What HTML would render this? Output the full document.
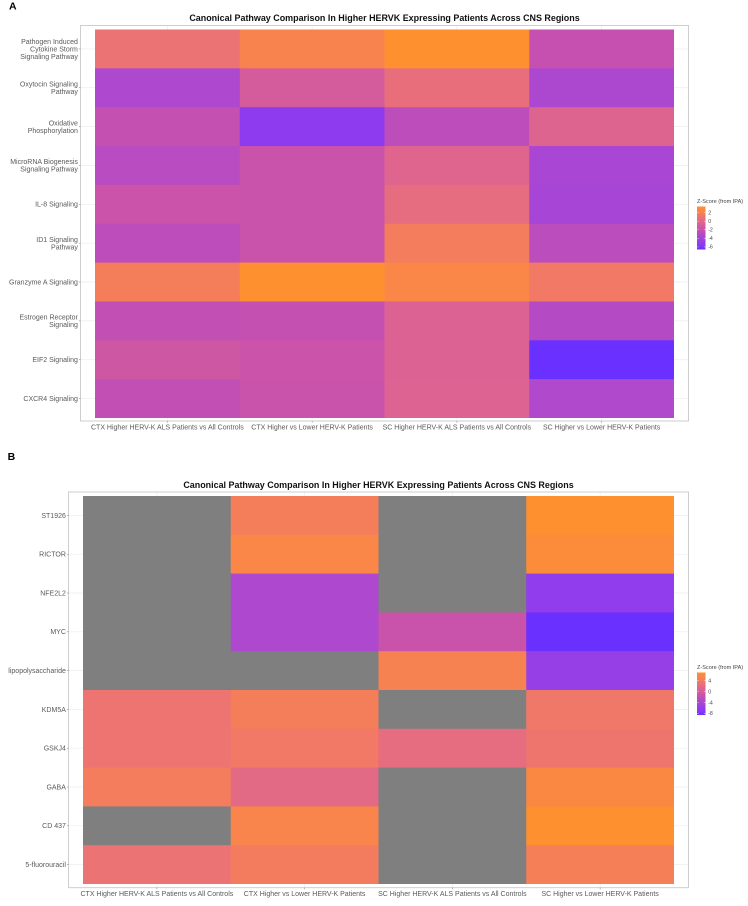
<!DOCTYPE html>
<html lang="en">
<head>
<meta charset="utf-8">
<title>Canonical Pathway Comparison</title>
<style>
html,body{margin:0;padding:0;background:#fff;width:748px;height:906px;overflow:hidden}
svg{display:block}
text{font-family:"Liberation Sans",sans-serif}
</style>
</head>
<body>
<svg id="fig" xmlns="http://www.w3.org/2000/svg" width="748" height="906" viewBox="0 0 748 906"></svg>
<script>
const chartTitle = 'Canonical Pathway Comparison In Higher HERVK Expressing Patients Across CNS Regions';
const legendTitle = 'Z-Score (from IPA)';
const comparisons = ['CTX Higher HERV-K ALS Patients vs All Controls', 'CTX Higher vs Lower HERV-K Patients', 'SC Higher HERV-K ALS Patients vs All Controls', 'SC Higher vs Lower HERV-K Patients'];

const pathwaysA = ['Pathogen Induced\nCytokine Storm\nSignaling Pathway', 'Oxytocin Signaling\nPathway', 'Oxidative\nPhosphorylation', 'MicroRNA Biogenesis\nSignaling Pathway', 'IL-8 Signaling', 'ID1 Signaling\nPathway', 'Granzyme A Signaling', 'Estrogen Receptor\nSignaling', 'EIF2 Signaling', 'CXCR4 Signaling'];
const zScoresA = [
  [0.93, 2.24, 3.44, -2.18],
  [-3.29, -1.08, 0.53, -3.39],
  [-2.28, -5.4, -2.58, -0.38],
  [-2.78, -1.98, -0.27, -3.59],
  [-1.88, -1.98, 0.33, -3.79],
  [-2.58, -1.98, 1.73, -2.68],
  [1.83, 3.44, 2.54, 1.43],
  [-2.38, -2.28, -0.58, -2.98],
  [-1.58, -1.88, -0.58, -6.6],
  [-2.38, -1.98, -0.48, -3.19]
];
const legendTicksA = [2, 0, -2, -4, -6];
const domainA = [-6.6, 3.44];

const regulatorsB = ['ST1926', 'RICTOR', 'NFE2L2', 'MYC', 'lipopolysaccharide', 'KDM5A', 'GSKJ4', 'GABA', 'CD 437', '5-fluorouracil'];
const zScoresB = [
  [null, 4.5, null, 7],
  [null, 5.6, null, 6.4],
  [null, -3.45, null, -6.4],
  [null, -3.45, -1.4, -8.6],
  [null, null, 5, -5.8],
  [3.25, 4.5, null, 3.7],
  [3.25, 3.9, 2.2, 3.4],
  [4.35, 1.85, null, 5.9],
  [null, 5.3, null, 7],
  [3.1, 4.2, null, 4.65]
];
const legendTicksB = [4, 0, -4, -8];
const domainB = [-8.6, 7];

const gradientStops = [[0, '#6a30ff'], [0.12, '#8e3bf0'], [0.33, '#ae48ce'], [0.45, '#c851ac'], [0.62, '#de6490'], [0.75, '#ec7373'], [0.88, '#f8834f'], [1, '#ff9030']];
const missingColor = '#7f7f7f';

const NS = 'http://www.w3.org/2000/svg';
const svg = document.getElementById('fig');

function mk(tag, attrs, parent) {
  const el = document.createElementNS(NS, tag);
  for (const k in attrs) el.setAttribute(k, attrs[k]);
  (parent || svg).appendChild(el);
  return el;
}
function hex(c) { return [1, 3, 5].map(i => parseInt(c.substr(i, 2), 16)); }
function colorAt(t) {
  t = Math.max(0, Math.min(1, t));
  for (let i = 1; i < gradientStops.length; i++) {
    const a = gradientStops[i - 1], b = gradientStops[i];
    if (t <= b[0]) {
      const f = (t - a[0]) / (b[0] - a[0]);
      const ca = hex(a[1]), cb = hex(b[1]);
      return 'rgb(' + ca.map((v, j) => Math.round(v + (cb[j] - v) * f)).join(',') + ')';
    }
  }
  return gradientStops[gradientStops.length - 1][1];
}

function drawHeatmap(cfg) {
  const g = mk('g', {});
  
  

  const tileW = (cfg.tiles.x1 - cfg.tiles.x0) / comparisons.length;
  const tileH = (cfg.tiles.y1 - cfg.tiles.y0) / cfg.rows.length;
  const xScale = i => cfg.tiles.x0 + i * tileW;
  const yScale = i => cfg.tiles.y0 + i * tileH;
  const fill = v => v === null ? missingColor : colorAt((v - cfg.domain[0]) / (cfg.domain[1] - cfg.domain[0]));

  const title = mk('text', {x: (cfg.panel.x0 + cfg.panel.x1) / 2, y: cfg.titleY, 'text-anchor': 'middle', 'font-size': cfg.titleSize, 'font-weight': 'bold', fill: '#111'}, g);
  title.textContent = chartTitle;
  
  

  const grid = mk('g', {stroke: '#eeeeee', 'stroke-width': 0.7}, g);
  
  
  cfg.rows.forEach((r, i) => {
    const y = yScale(i) + tileH / 2;
    mk('line', {x1: cfg.panel.x0, x2: cfg.panel.x1, y1: y, y2: y}, grid);
  });
  comparisons.forEach((c, i) => {
    const x = xScale(i) + tileW / 2;
    mk('line', {x1: x, x2: x, y1: cfg.panel.y0, y2: cfg.panel.y1}, grid);
  });

  const tiles = mk('g', {}, g);
  
  
  cfg.values.forEach((row, r) => {
    row.forEach((v, c) => {
      const lastCol = c === row.length - 1;
      const lastRow = r === cfg.values.length - 1;
      const cell = mk('rect', {x: xScale(c), y: yScale(r), width: tileW + (lastCol ? 0 : 0.6), height: tileH + (lastRow ? 0 : 0.6), fill: fill(v)}, tiles);
      
      
    });
  });

  const frame = mk('rect', {x: cfg.panel.x0, y: cfg.panel.y0, width: cfg.panel.x1 - cfg.panel.x0, height: cfg.panel.y1 - cfg.panel.y0, fill: 'none', stroke: '#c9c9c9', 'stroke-width': 0.9}, g);
  
  

  cfg.rows.forEach((r, i) => {
    const cy = yScale(i) + tileH / 2;
    mk('line', {x1: cfg.panel.x0 - 1.6, x2: cfg.panel.x0, y1: cy, y2: cy, stroke: '#777', 'stroke-width': 0.5}, g);
    const lines = r.split('\n');
    const lab = mk('text', {'text-anchor': 'end', 'font-size': cfg.labelSize, fill: '#5a5a5a'}, g);
    
    
    lines.forEach((ln, k) => {
      const sp = mk('tspan', {x: cfg.panel.x0 - 2.6, y: cy + 2.4 + (k - (lines.length - 1) / 2) * 7.5}, lab);
      sp.textContent = ln;
    });
  });

  comparisons.forEach((c, i) => {
    const cx = xScale(i) + tileW / 2;
    mk('line', {x1: cx, x2: cx, y1: cfg.panel.y1, y2: cfg.panel.y1 + 1.6, stroke: '#777', 'stroke-width': 0.5}, g);
    const lab = mk('text', {x: cx, y: cfg.xLabelY, 'text-anchor': 'middle', 'font-size': cfg.labelSize, fill: '#5a5a5a'}, g);
    lab.textContent = c;
    
    
  });

  const legend = mk('g', {}, g);
  
  
  const lt = mk('text', {x: 697, y: cfg.legend.titleY, 'font-size': 5.55, fill: '#444'}, legend);
  lt.textContent = legendTitle;
  
  

  const gradId = cfg.key + '-gradient';
  const defs = mk('defs', {}, legend);
  const lg = mk('linearGradient', {id: gradId, x1: 0, y1: 1, x2: 0, y2: 0}, defs);
  gradientStops.forEach(s => mk('stop', {offset: s[0], 'stop-color': s[1]}, lg));
  const bar = mk('rect', {x: 697, y: cfg.legend.y0, width: 8.5, height: cfg.legend.y1 - cfg.legend.y0, fill: 'url(#' + gradId + ')'}, legend);
  
  
  const legendY = v => cfg.legend.y1 - (v - cfg.domain[0]) / (cfg.domain[1] - cfg.domain[0]) * (cfg.legend.y1 - cfg.legend.y0);
  cfg.ticks.forEach(t => {
    const y = legendY(t);
    mk('line', {x1: 697, x2: 698.7, y1: y, y2: y, stroke: '#fff', 'stroke-width': 0.4}, legend);
    mk('line', {x1: 703.8, x2: 705.5, y1: y, y2: y, stroke: '#fff', 'stroke-width': 0.4}, legend);
    const tl = mk('text', {x: 708.2, y: y + 1.8, 'font-size': 5.2, fill: '#444'}, legend);
    tl.textContent = t;
    
    
  });
}

const tagA = mk('text', {x: 9, y: 9.6, 'font-size': 10.5, 'font-weight': 'bold', fill: '#000'});
tagA.textContent = 'A';


const tagB = mk('text', {x: 7.6, y: 460, 'font-size': 10.5, 'font-weight': 'bold', fill: '#000'});
tagB.textContent = 'B';



drawHeatmap({
  key: 'pathways',
  rows: pathwaysA,
  values: zScoresA,
  ticks: legendTicksA,
  domain: domainA,
  panel: {x0: 80.5, x1: 688.5, y0: 25.5, y1: 421},
  tiles: {x0: 95, x1: 674, y0: 29.5, y1: 418},
  titleY: 21,
  titleSize: 8.95,
  labelSize: 7,
  xLabelY: 429.5,
  legend: {titleY: 203, y0: 206.5, y1: 249.5}
});
drawHeatmap({
  key: 'regulators',
  rows: regulatorsB,
  values: zScoresB,
  ticks: legendTicksB,
  domain: domainB,
  panel: {x0: 68.5, x1: 688.5, y0: 492, y1: 887.7},
  tiles: {x0: 83, x1: 674, y0: 496, y1: 884},
  titleY: 487.8,
  titleSize: 8.95,
  labelSize: 7,
  xLabelY: 895.8,
  legend: {titleY: 669, y0: 672.5, y1: 715}
});
</script>
</body>
</html>
